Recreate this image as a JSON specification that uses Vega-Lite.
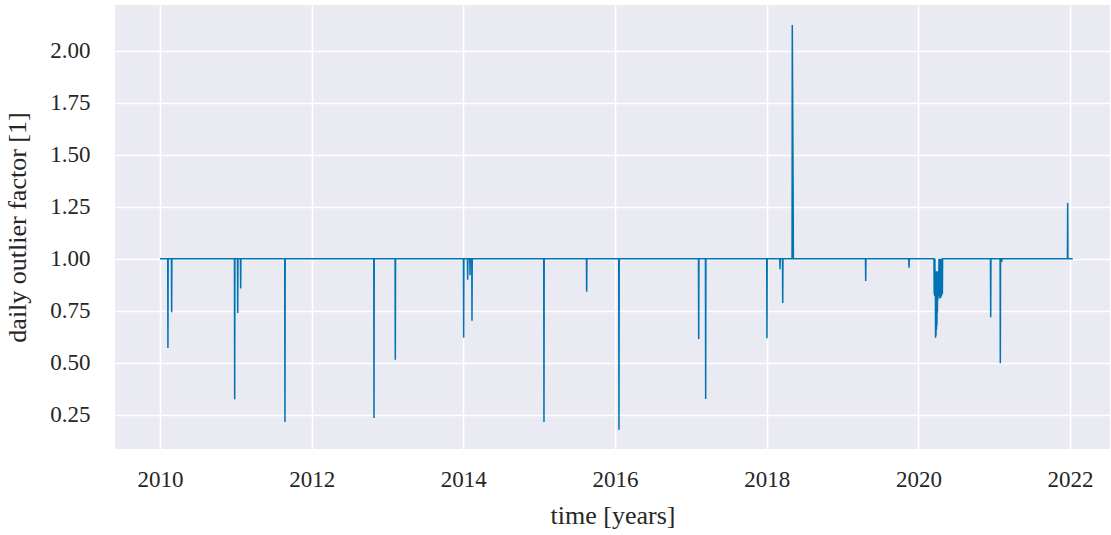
{
  "$schema": "https://vega.github.io/schema/vega-lite/v6.json",
  "autosize": "none",
  "width": 995,
  "height": 444,
  "padding": {"left": 115, "top": 5, "right": 1, "bottom": 86},
  "background": "white",
  "config": {
    "view": {"fill": "#eaeaf2", "stroke": null},
    "font": "Liberation Serif",
    "axis": {
      "domain": false,
      "ticks": false,
      "grid": true,
      "gridColor": "white",
      "gridWidth": 1.6,
      "labelFont": "Liberation Serif",
      "labelFontSize": 23,
      "labelColor": "#262626",
      "titleFont": "Liberation Serif",
      "titleFontSize": 26,
      "titleFontWeight": "normal",
      "titleColor": "#262626"
    }
  },
  "data": {
    "values": [
      {"t": 2010.000, "v": 1},
      {"t": 2010.102, "v": 1},
      {"t": 2010.105, "v": 0.571},
      {"t": 2010.108, "v": 1},
      {"t": 2010.151, "v": 1},
      {"t": 2010.154, "v": 0.742},
      {"t": 2010.157, "v": 1},
      {"t": 2010.982, "v": 1},
      {"t": 2010.985, "v": 0.324},
      {"t": 2010.988, "v": 1},
      {"t": 2011.022, "v": 1},
      {"t": 2011.025, "v": 0.739},
      {"t": 2011.028, "v": 1},
      {"t": 2011.061, "v": 1},
      {"t": 2011.064, "v": 0.857},
      {"t": 2011.067, "v": 1},
      {"t": 2011.645, "v": 1},
      {"t": 2011.648, "v": 0.215},
      {"t": 2011.651, "v": 1},
      {"t": 2012.819, "v": 1},
      {"t": 2012.822, "v": 0.234},
      {"t": 2012.825, "v": 1},
      {"t": 2013.100, "v": 1},
      {"t": 2013.103, "v": 0.514},
      {"t": 2013.106, "v": 1},
      {"t": 2014.001, "v": 1},
      {"t": 2014.004, "v": 0.620},
      {"t": 2014.007, "v": 1},
      {"t": 2014.054, "v": 1},
      {"t": 2014.057, "v": 0.899},
      {"t": 2014.060, "v": 1},
      {"t": 2014.085, "v": 1},
      {"t": 2014.088, "v": 0.921},
      {"t": 2014.091, "v": 1},
      {"t": 2014.111, "v": 1},
      {"t": 2014.114, "v": 0.702},
      {"t": 2014.117, "v": 1},
      {"t": 2015.060, "v": 1},
      {"t": 2015.063, "v": 0.215},
      {"t": 2015.066, "v": 1},
      {"t": 2015.623, "v": 1},
      {"t": 2015.626, "v": 0.841},
      {"t": 2015.629, "v": 1},
      {"t": 2016.049, "v": 1},
      {"t": 2016.052, "v": 0.178},
      {"t": 2016.055, "v": 1},
      {"t": 2017.100, "v": 1},
      {"t": 2017.103, "v": 0.614},
      {"t": 2017.106, "v": 1},
      {"t": 2017.192, "v": 1},
      {"t": 2017.195, "v": 0.325},
      {"t": 2017.198, "v": 1},
      {"t": 2018.000, "v": 1},
      {"t": 2018.003, "v": 0.617},
      {"t": 2018.006, "v": 1},
      {"t": 2018.172, "v": 1},
      {"t": 2018.175, "v": 0.949},
      {"t": 2018.178, "v": 1},
      {"t": 2018.208, "v": 1},
      {"t": 2018.211, "v": 0.787},
      {"t": 2018.214, "v": 1},
      {"t": 2018.334, "v": 1},
      {"t": 2018.337, "v": 2.124},
      {"t": 2018.349, "v": 1.247},
      {"t": 2018.351, "v": 1},
      {"t": 2019.302, "v": 1},
      {"t": 2019.305, "v": 0.893},
      {"t": 2019.308, "v": 1},
      {"t": 2019.873, "v": 1},
      {"t": 2019.876, "v": 0.957},
      {"t": 2019.879, "v": 1},
      {"t": 2020.205, "v": 1},
      {"t": 2020.208, "v": 0.83},
      {"t": 2020.211, "v": 0.99},
      {"t": 2020.214, "v": 0.82},
      {"t": 2020.217, "v": 1},
      {"t": 2020.220, "v": 0.83},
      {"t": 2020.223, "v": 0.93},
      {"t": 2020.226, "v": 0.62},
      {"t": 2020.229, "v": 0.94},
      {"t": 2020.232, "v": 0.63},
      {"t": 2020.235, "v": 0.93},
      {"t": 2020.238, "v": 0.66},
      {"t": 2020.241, "v": 0.94},
      {"t": 2020.244, "v": 0.68},
      {"t": 2020.247, "v": 0.93},
      {"t": 2020.250, "v": 0.74},
      {"t": 2020.253, "v": 0.94},
      {"t": 2020.256, "v": 0.80},
      {"t": 2020.259, "v": 0.93},
      {"t": 2020.262, "v": 0.82},
      {"t": 2020.265, "v": 0.94},
      {"t": 2020.268, "v": 0.83},
      {"t": 2020.271, "v": 1},
      {"t": 2020.274, "v": 0.82},
      {"t": 2020.277, "v": 1},
      {"t": 2020.280, "v": 0.81},
      {"t": 2020.283, "v": 0.99},
      {"t": 2020.286, "v": 0.82},
      {"t": 2020.289, "v": 1},
      {"t": 2020.292, "v": 0.81},
      {"t": 2020.295, "v": 0.99},
      {"t": 2020.298, "v": 0.83},
      {"t": 2020.301, "v": 1},
      {"t": 2020.304, "v": 0.82},
      {"t": 2020.307, "v": 0.99},
      {"t": 2020.310, "v": 0.84},
      {"t": 2020.313, "v": 1},
      {"t": 2020.316, "v": 0.83},
      {"t": 2020.319, "v": 1},
      {"t": 2020.950, "v": 1},
      {"t": 2020.953, "v": 0.718},
      {"t": 2020.956, "v": 1},
      {"t": 2021.077, "v": 1},
      {"t": 2021.080, "v": 0.497},
      {"t": 2021.083, "v": 1},
      {"t": 2021.095, "v": 1},
      {"t": 2021.098, "v": 0.985},
      {"t": 2021.101, "v": 1},
      {"t": 2021.965, "v": 1},
      {"t": 2021.968, "v": 1.268},
      {"t": 2021.971, "v": 1},
      {"t": 2022.035, "v": 1}
    ]
  },
  "mark": {"type": "line", "color": "#0173b2", "strokeWidth": 1.5, "clip": true},
  "encoding": {
    "x": {
      "field": "t",
      "type": "quantitative",
      "sort": null,
      "scale": {"domain": [2009.407, 2022.526], "nice": false, "zero": false},
      "axis": {
        "title": "time [years]",
        "values": [2010, 2012, 2014, 2016, 2018, 2020, 2022],
        "format": "d",
        "labelPadding": 19,
        "titlePadding": 11
      }
    },
    "y": {
      "field": "v",
      "type": "quantitative",
      "scale": {"domain": [0.085, 2.22], "nice": false, "zero": false},
      "axis": {
        "title": "daily outlier factor [1]",
        "values": [0.25, 0.5, 0.75, 1.0, 1.25, 1.5, 1.75, 2.0],
        "format": ".2f",
        "labelPadding": 25,
        "titlePadding": 19
      }
    }
  }
}
